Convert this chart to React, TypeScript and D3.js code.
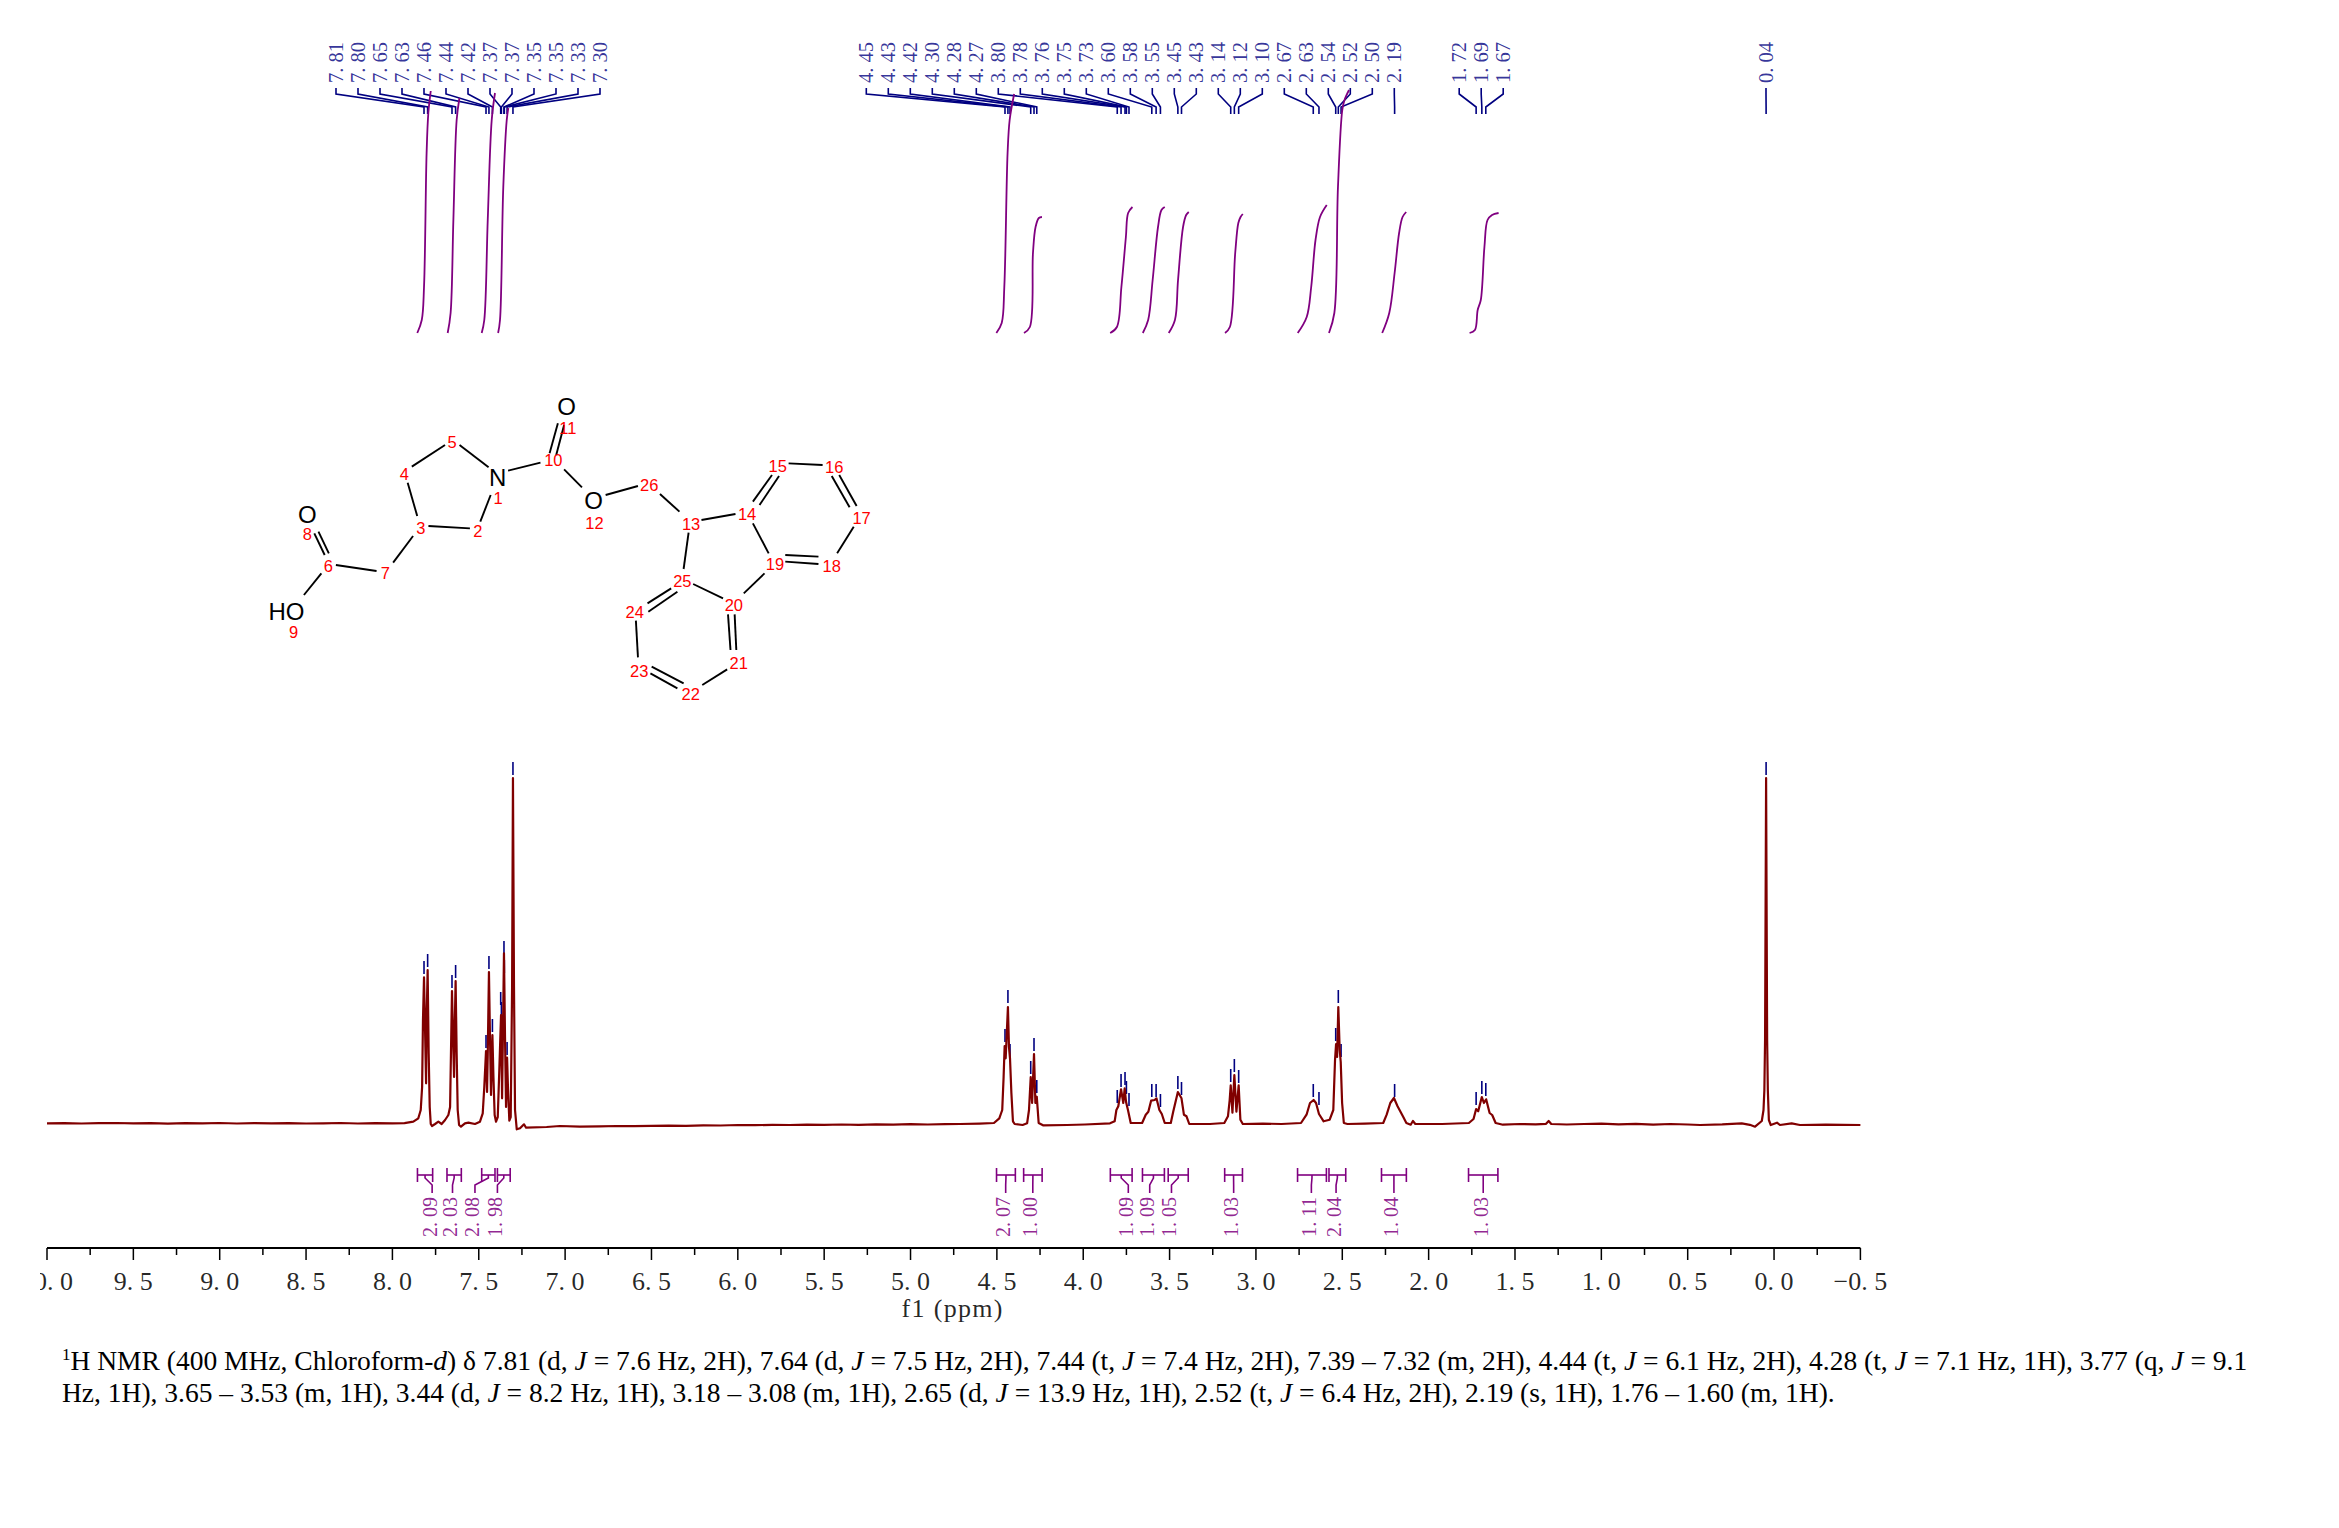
import React from "react";
import * as d3 from "d3";

// ---------- spectrum trace ----------
const tracePpm = [10.0,9.9,9.8,9.7,9.6,9.5,9.4,9.3,9.2,9.1,9.0,8.9,8.8,8.7,8.6,8.5,8.4,8.3,8.2,8.1,8.0,7.93,7.879,7.85,7.836,7.828,7.823,7.817,7.811,7.805,7.802,7.796,7.79,7.784,7.778,7.771,7.753,7.734,7.715,7.695,7.676,7.666,7.661,7.655,7.649,7.643,7.639,7.634,7.628,7.622,7.614,7.603,7.58,7.56,7.522,7.493,7.477,7.468,7.458,7.452,7.448,7.441,7.435,7.429,7.421,7.415,7.408,7.4,7.39,7.381,7.371,7.365,7.359,7.354,7.348,7.342,7.336,7.331,7.323,7.315,7.307,7.302,7.296,7.29,7.28,7.261,7.238,7.226,7.107,7.03,6.914,6.8,6.7,6.6,6.5,6.4,6.3,6.2,6.1,6.0,5.9,5.8,5.7,5.6,5.5,5.4,5.3,5.2,5.1,5.0,4.9,4.8,4.713,4.6,4.517,4.486,4.469,4.461,4.455,4.449,4.436,4.43,4.424,4.416,4.407,4.397,4.351,4.325,4.314,4.304,4.296,4.285,4.277,4.269,4.258,4.233,4.093,3.99,3.845,3.818,3.808,3.797,3.781,3.768,3.76,3.752,3.741,3.725,3.659,3.638,3.623,3.607,3.586,3.576,3.559,3.545,3.528,3.493,3.479,3.452,3.431,3.417,3.402,3.386,3.266,3.183,3.162,3.152,3.146,3.136,3.125,3.113,3.1,3.09,3.076,2.96,2.852,2.739,2.707,2.687,2.666,2.652,2.635,2.608,2.573,2.552,2.542,2.536,2.53,2.523,2.515,2.509,2.501,2.491,2.47,2.37,2.263,2.243,2.222,2.201,2.18,2.149,2.129,2.104,2.091,2.077,1.922,1.767,1.74,1.725,1.713,1.692,1.68,1.667,1.647,1.632,1.612,1.57,1.47,1.38,1.32,1.305,1.29,1.2,1.1,1.0,0.9,0.8,0.7,0.6,0.5,0.428,0.3,0.187,0.14,0.11,0.071,0.061,0.056,0.052,0.046,0.04,0.036,0.03,0.019,-0.017,-0.034,-0.102,-0.15,-0.3,-0.5];
const traceIntensity = [0.6,0.9,0.5,0.8,1,0.6,0.8,0.4,0.9,0.7,1,0.5,0.8,0.6,0.9,0.5,0.7,1,0.5,0.8,0.7,0.9,2.3,5.7,14,37,104,146.7,94,40.7,104,154,70.7,17,0,-2,0,2.3,0,4,9,17,70.7,133,87,47,97,143,70.7,14,-1,-2.7,0.7,1.3,0,2.3,10.7,37,73,32,70,152,87,29,89,47,9,2.3,7,54,109,25.7,104,170.7,87,17,66.3,37,3.3,7,137,346,137,14,-5.3,-4.3,-0.3,-3.7,-3,-2,-2.7,-2.3,-2,-2.2,-1.8,-1.6,-1.9,-1.3,-1.5,-1,-1.2,-0.8,-1,-0.6,-0.8,-0.5,-0.8,-0.3,-0.6,-0.2,-0.5,-0.1,0,0.4,1,5.7,14,47,78,65.7,117,77,65.7,31,2.7,0,-1,0.7,14,47,21,70,21,27.3,1,-1.3,-1,-0.5,0.7,2.7,14,17.7,34.7,21,35.7,22,14,1,1,9.3,12.3,23.3,24,25.7,14,10,1,1,12.3,32,25.7,9.3,7.7,0,0,1,7.7,24,38.7,11.3,49,12.3,38.7,4.3,0,0.4,0,1,9.3,21,24,21,10,2.7,4.3,14,64,80,67,117,74,62,21,1,0,0.4,1,9.3,21,26,17.7,7.7,1,-0.7,3,0,0,1,5,15,12.7,27,21,24.7,11,9,1,-0.7,0,-0.3,0.2,3,0,-0.5,0,0.3,-0.4,0.2,-0.6,0,-0.5,-1,-0.4,0.7,-0.8,-2.7,3,14,34,84,346,84,34,4,-1,1.3,-1,0.7,-1,-0.6,-1];

// ---------- peak picking ----------
const peakLabelsA = ["7.81","7.80","7.65","7.63","7.46","7.44","7.42","7.37","7.37","7.35","7.35","7.33","7.30"];
const peakPpmA = [7.817,7.796,7.655,7.634,7.458,7.441,7.421,7.373,7.369,7.354,7.352,7.336,7.302];
const peakTopA = [147,154,133,143,73,152,89,116,106,167,148,66,346];
const peakLabelsB = ["4.45","4.43","4.42","4.30","4.28","4.27","3.80","3.78","3.76","3.75","3.73","3.60","3.58","3.55","3.45","3.43","3.14","3.12","3.10","2.67","2.63","2.54","2.52","2.50","2.19"];
const peakPpmB = [4.453,4.436,4.424,4.304,4.285,4.269,3.803,3.781,3.758,3.75,3.735,3.603,3.578,3.553,3.452,3.431,3.146,3.125,3.1,2.668,2.635,2.538,2.523,2.507,2.197];
const peakTopB = [79,118,64,47,70,28,18,34,36,27,15,24,24,14,32,26,39,49,38,24,16,80,118,64,24];
const peakLabelsC = ["1.72","1.69","1.67"];
const peakPpmC = [1.725,1.692,1.669];
const peakTopC = [16,27,25];
const peakLabelsD = ["0.04"];
const peakPpmD = [0.046];
const peakTopD = [346];

// ---------- integrals ----------
const integralLabels = ["2.09","2.03","2.08","1.98","2.07","1.00","1.09","1.09","1.05","1.03","1.11","2.04","1.04","1.03"];
const integralFrom = [7.855,7.684,7.483,7.392,4.502,4.345,3.843,3.657,3.508,3.181,2.759,2.577,2.273,1.769];
const integralTo = [7.767,7.601,7.406,7.318,4.393,4.238,3.717,3.53,3.392,3.078,2.592,2.48,2.129,1.599];
const integralStem = [7.77,7.652,7.522,7.392,4.449,4.292,3.739,3.615,3.489,3.129,2.679,2.536,2.201,1.684];
const integralCurvesPpm = [
  [7.856,7.83,7.817,7.802,7.792,7.778],
  [7.68,7.663,7.647,7.628,7.612],
  [7.483,7.468,7.448,7.425,7.406],
  [7.388,7.377,7.358,7.338,7.329],
  [4.503,4.472,4.457,4.438,4.426,4.4],
  [4.343,4.309,4.291,4.276,4.257,4.239],
  [3.844,3.805,3.779,3.753,3.74,3.715],
  [3.655,3.624,3.598,3.567,3.547,3.528],
  [3.505,3.469,3.451,3.422,3.404,3.389],
  [3.179,3.151,3.12,3.102,3.089,3.076],
  [2.758,2.706,2.68,2.655,2.629,2.59],
  [2.577,2.546,2.525,2.5,2.487,2.461],
  [2.269,2.228,2.197,2.171,2.151,2.13],
  [1.763,1.732,1.716,1.698,1.677,1.659,1.633,1.595],
];
const integralCurvesValue = [
  [0,13,46,180,220,242],
  [0,20,113,213,235],
  [0,13,113,213,240],
  [0,13,146,213,225],
  [0,10,46,180,213,239],
  [0,6,80,106,115,116],
  [0,6,46,96,120,126],
  [0,13,53,106,123,126],
  [0,13,53,106,118,121],
  [0,6,80,110,116,119],
  [0,16,46,93,116,128],
  [0,20,146,223,233,243],
  [0,20,60,100,116,121],
  [0,3,23,33,86,113,118,120],
];

// ---------- axis ----------
const majorTicks = [10,9.5,9,8.5,8,7.5,7,6.5,6,5.5,5,4.5,4,3.5,3,2.5,2,1.5,1,0.5,0,-0.5];
const minorTicks = [9.75,9.25,8.75,8.25,7.75,7.25,6.75,6.25,5.75,5.25,4.75,4.25,3.75,3.25,2.75,2.25,1.75,1.25,0.75,0.25,-0.25];

// ---------- structure drawing (coordinates on the drawing's own grid) ----------
const bonds = [
  [505,195,575,262],[390,260,470,195],[380,308,403,408],[430,438,530,445],[555,425,580,345],[622,272,700,248],
  [722,220,742,130],[738,225,757,135],[757,268,800,322],[857,345,935,318],[988,342,1035,395],[1088,420,1170,402],
  [1057,458,1045,567],[1212,365,1258,285],[1228,375,1275,288],[1298,250,1380,255],[1402,288,1445,382],[1420,285,1462,378],
  [1455,440,1415,520],[1290,525,1370,530],[1290,545,1370,552],[1250,520,1212,430],[1240,580,1190,640],[1140,655,1068,612],
  [1015,625,958,670],[1030,635,960,695],[930,722,935,832],[968,860,1045,910],[965,880,1030,925],[1090,915,1150,868],
  [1152,703,1158,810],[1168,703,1172,810],[393,468,345,548],[305,573,207,555],[165,455,190,520],[155,460,180,525],[172,580,130,645],
];
const atomNames = ["N","O","O","O","HO"];
const atomPos = [[597,292],[763,78],[828,360],[138,402],[88,695]];
const atomNumbers = ["1","2","3","4","5","6","7","8","9","10","11","12","13","14","15","16","17","18","19","20","21","22","23","24","25","26"];
const atomNumberPos = [[598,355],[549,452],[412,445],[372,282],[487,185],[189,558],[326,578],[138,463],[105,757],[731,241],[766,143],[830,428],[1063,433],[1198,403],[1272,257],[1408,262],[1474,414],[1402,558],[1265,552],[1166,676],[1178,848],[1062,941],[938,872],[927,697],[1042,602],[962,314]];

const W = 2339, H = 1528;
const x = d3.scaleLinear().domain([10, -0.5]).range([47, 1860.4]);
const y = d3.scaleLinear().domain([0, 346]).range([1124, 778]);
const yI = d3.scaleLinear().domain([0, 250]).range([333, 83]);

const NAVY = "#000080";
const PURPLE = "#800080";
const MAROON = "#800000";
const SERIF = "'Liberation Serif', serif";
const SANS = "'Liberation Sans', sans-serif";
const mx = (v: number) => 250 + v / 2.41;
const my = (v: number) => 380 + v / 3;
const spaced = (s: string) => s.replace(".", ". ");

const traceLine = d3.line<number>().x((p) => x(p)).y((_, i) => y(traceIntensity[i]));

function PeakGroup({ labels, ppm, tops, x0, step }: { labels: string[]; ppm: number[]; tops: number[]; x0: number; step: number }) {
  return (
    <g>
      {labels.map((l, i) => {
        const lx = x0 + i * step;
        const px = x(ppm[i]);
        const path = d3.line()([[lx, 88], [lx, 94], [px, 107], [px, 114]]) as string;
        const top = y(tops[i]);
        return (
          <g key={i}>
            <path d={path} fill="none" stroke={NAVY} strokeWidth={1.6} />
            <line x1={px} x2={px} y1={top - 3} y2={top - 16} stroke={NAVY} strokeWidth={1.6} />
            <text transform={`translate(${lx + 7},83) rotate(-90)`} fontFamily={SERIF} fontSize={22} textLength={41} lengthAdjust="spacingAndGlyphs" fill={NAVY} fillOpacity={0.8}>
              {spaced(l)}
            </text>
          </g>
        );
      })}
    </g>
  );
}

export default function App() {
  const integralLine = d3.line<[number, number]>().x((d) => x(d[0])).y((d) => yI(d[1])).curve(d3.curveCatmullRom.alpha(0.5));
  return (
    <svg width={W} height={H} viewBox={`0 0 ${W} ${H}`} style={{ position: "absolute", left: 0, top: 0, background: "#fff" }}>
      <defs>
        <clipPath id="axisClip"><rect x={40} y={1240} width={1900} height={90} /></clipPath>
      </defs>

      <PeakGroup labels={peakLabelsA} ppm={peakPpmA} tops={peakTopA} x0={336} step={22} />
      <PeakGroup labels={peakLabelsB} ppm={peakPpmB} tops={peakTopB} x0={866.3} step={22} />
      <PeakGroup labels={peakLabelsC} ppm={peakPpmC} tops={peakTopC} x0={1459.2} step={22} />
      <PeakGroup labels={peakLabelsD} ppm={peakPpmD} tops={peakTopD} x0={1766} step={22} />

      {/* integral curves */}
      {integralCurvesPpm.map((c, i) => (
        <path key={i} d={integralLine(c.map((p, j) => [p, integralCurvesValue[i][j]] as [number, number])) as string}
          fill="none" stroke={PURPLE} strokeWidth={1.8} />
      ))}

      {/* structure */}
      <g stroke="#000" strokeWidth={1.9}>
        {bonds.map((b, i) => <line key={i} x1={mx(b[0])} y1={my(b[1])} x2={mx(b[2])} y2={my(b[3])} />)}
      </g>
      {atomNames.map((a, i) => (
        <text key={i} x={mx(atomPos[i][0])} y={my(atomPos[i][1])} textAnchor="middle" dominantBaseline="central" fontFamily={SANS} fontSize={24} fill="#000">{a}</text>
      ))}
      {atomNumbers.map((a, i) => (
        <text key={i} x={mx(atomNumberPos[i][0])} y={my(atomNumberPos[i][1])} textAnchor="middle" dominantBaseline="central" fontFamily={SANS} fontSize={16.5} fill="#ff0000">{a}</text>
      ))}

      {/* spectrum */}
      <path d={traceLine(tracePpm) as string} fill="none" stroke={MAROON} strokeWidth={2.2} strokeLinejoin="round" />

      {/* integral brackets */}
      {integralLabels.map((l, i) => {
        const a = x(integralFrom[i]), b = x(integralTo[i]), s = x(integralStem[i]), c = (a + b) / 2;
        const stem = d3.line()([[c, 1175], [c, 1178], [s, 1185], [s, 1193]]) as string;
        return (
          <g key={i} stroke={PURPLE} strokeWidth={1.6} fill="none">
            <line x1={a} x2={b} y1={1175} y2={1175} />
            <line x1={a} x2={a} y1={1168} y2={1182} />
            <line x1={b} x2={b} y1={1168} y2={1182} />
            <path d={stem} />
            <text transform={`translate(${s + 4.5},1237) rotate(-90)`} fontFamily={SERIF} fontSize={21} textLength={40} lengthAdjust="spacingAndGlyphs" fill={PURPLE} fillOpacity={0.85} stroke="none">{spaced(l)}</text>
          </g>
        );
      })}

      {/* axis */}
      <line x1={x(10)} x2={x(-0.5)} y1={1248} y2={1248} stroke="#000" strokeWidth={2} />
      {majorTicks.map((t) => <line key={t} x1={x(t)} x2={x(t)} y1={1248} y2={1260} stroke="#000" strokeWidth={1.5} />)}
      {minorTicks.map((t) => <line key={t} x1={x(t)} x2={x(t)} y1={1248} y2={1255} stroke="#000" strokeWidth={1.5} />)}
      <g clipPath="url(#axisClip)">
        {majorTicks.map((t) => (
          <text key={t} x={x(t)} y={1290} textAnchor="middle" fontFamily={SERIF} fontSize={26} fill="#000" fillOpacity={0.85}>
            {(t < 0 ? "\u2212" : "") + spaced(Math.abs(t).toFixed(1))}
          </text>
        ))}
      </g>
      <text x={952} y={1317} textAnchor="middle" fontFamily={SERIF} fontSize={26} textLength={101} fill="#000" fillOpacity={0.85}>f1  (ppm)</text>

      {/* caption */}
      <g fontFamily={SERIF} fontSize={27.5} fill="#000">
        <text x={62} y={1370}>
          <tspan dy={-10} fontSize={17}>1</tspan>
          <tspan dy={10}>H NMR (400 MHz, Chloroform-</tspan><tspan fontStyle="italic">d</tspan>
          <tspan>) δ 7.81 (d, </tspan><tspan fontStyle="italic">J</tspan>
          <tspan> = 7.6 Hz, 2H), 7.64 (d, </tspan><tspan fontStyle="italic">J</tspan>
          <tspan> = 7.5 Hz, 2H), 7.44 (t, </tspan><tspan fontStyle="italic">J</tspan>
          <tspan> = 7.4 Hz, 2H), 7.39 – 7.32 (m, 2H), 4.44 (t, </tspan><tspan fontStyle="italic">J</tspan>
          <tspan> = 6.1 Hz, 2H), 4.28 (t, </tspan><tspan fontStyle="italic">J</tspan>
          <tspan> = 7.1 Hz, 1H), 3.77 (q, </tspan><tspan fontStyle="italic">J</tspan>
          <tspan> = 9.1</tspan>
        </text>
        <text x={62} y={1402}>
          <tspan>Hz, 1H), 3.65 – 3.53 (m, 1H), 3.44 (d, </tspan><tspan fontStyle="italic">J</tspan>
          <tspan> = 8.2 Hz, 1H), 3.18 – 3.08 (m, 1H), 2.65 (d, </tspan><tspan fontStyle="italic">J</tspan>
          <tspan> = 13.9 Hz, 1H), 2.52 (t, </tspan><tspan fontStyle="italic">J</tspan>
          <tspan> = 6.4 Hz, 2H), 2.19 (s, 1H), 1.76 – 1.60 (m, 1H).</tspan>
        </text>
      </g>
    </svg>
  );
}
